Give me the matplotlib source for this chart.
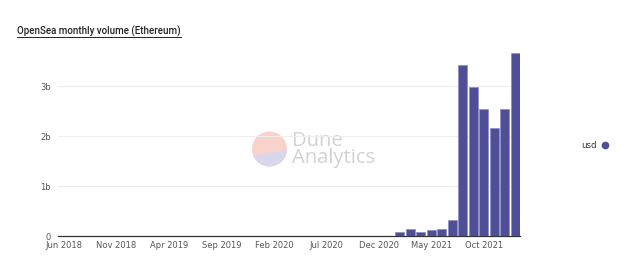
import matplotlib
matplotlib.use("Agg")
import matplotlib.pyplot as plt
from matplotlib.patches import Circle, Polygon
from matplotlib.lines import Line2D
import numpy as np

# ---- data ----
months = ["Jun 2018", "Jul 2018", "Aug 2018", "Sep 2018", "Oct 2018", "Nov 2018", "Dec 2018",
          "Jan 2019", "Feb 2019", "Mar 2019", "Apr 2019", "May 2019", "Jun 2019", "Jul 2019",
          "Aug 2019", "Sep 2019", "Oct 2019", "Nov 2019", "Dec 2019",
          "Jan 2020", "Feb 2020", "Mar 2020", "Apr 2020", "May 2020", "Jun 2020", "Jul 2020",
          "Aug 2020", "Sep 2020", "Oct 2020", "Nov 2020", "Dec 2020",
          "Jan 2021", "Feb 2021", "Mar 2021", "Apr 2021", "May 2021", "Jun 2021", "Jul 2021",
          "Aug 2021", "Sep 2021", "Oct 2021", "Nov 2021", "Dec 2021", "Jan 2022"]
usd_b = [0.001, 0.001, 0.001, 0.001, 0.001, 0.001, 0.001,
         0.001, 0.001, 0.001, 0.001, 0.001, 0.002, 0.002,
         0.002, 0.002, 0.002, 0.002, 0.002,
         0.002, 0.002, 0.002, 0.002, 0.002, 0.002, 0.003,
         0.004, 0.005, 0.004, 0.003, 0.004,
         0.008, 0.09, 0.14, 0.08, 0.13, 0.14, 0.32,
         3.42, 2.99, 2.55, 2.16, 2.55, 3.67]
tick_labels = ["Jun 2018", "Nov 2018", "Apr 2019", "Sep 2019", "Feb 2020",
               "Jul 2020", "Dec 2020", "May 2021", "Oct 2021"]
y_ticks = [0, 1, 2, 3]
y_tick_labels = ["0", "1b", "2b", "3b"]
title = "OpenSea monthly volume (Ethereum)"
series_name = "usd"

W, H = 633, 262
fig = plt.figure(figsize=(W / 100, H / 100), dpi=100)
fig.patch.set_facecolor("white")

ax = fig.add_axes([58 / W, (H - 236) / H, (520 - 58) / W, 191 / H])
x = np.arange(len(months))
ax.bar(x, usd_b, width=0.86, color="#4e4f97", edgecolor="#9090c6", linewidth=0.6, zorder=3)

ax.set_xlim(-0.57, 43.45)
ax.set_ylim(0, 3.82)
ax.set_xticks([months.index(t) for t in tick_labels])
ax.set_xticklabels(tick_labels)
ax.set_yticks(y_ticks)
ax.set_yticklabels(y_tick_labels)
ax.tick_params(axis="both", length=0, labelsize=6, labelcolor="#555555")
ax.tick_params(axis="x", pad=3.5)
ax.tick_params(axis="y", pad=5)
ax.yaxis.grid(True, color="#eeeeee", linewidth=0.8, zorder=0)
for s in ["top", "right", "left"]:
    ax.spines[s].set_visible(False)
ax.spines["bottom"].set_color("#333333")
ax.spines["bottom"].set_linewidth(0.9)
ax.set_facecolor("none")

# title (underlined)
t = fig.text(17 / W, (H - 31.5) / H, title, fontsize=7, color="#222222",
             family=["Roboto", "DejaVu Sans"], fontweight="medium", va="center", ha="left")
fig.canvas.draw()
bb = t.get_window_extent()
fig.add_artist(Line2D([bb.x0 / W, bb.x1 / W], [(H - 36.5) / H] * 2, color="#222222",
                      linewidth=0.7, transform=fig.transFigure))

# legend
fig.text(597 / W, (H - 145) / H, series_name, fontsize=6.2, color="#333333",
         ha="right", va="center")
fig.add_artist(Line2D([605 / W], [(H - 145) / H], marker="o", markersize=4.5,
                      color="#4e4f97", transform=fig.transFigure))

# watermark
wax = fig.add_axes([0, 0, 1, 1], zorder=-1)
wax.set_xlim(0, W)
wax.set_ylim(H, 0)
wax.set_aspect("equal")
wax.axis("off")
cx, cy, r = 269.5, 149, 17.5
circ = Circle((cx, cy), r, facecolor="#f7d3cc", edgecolor="none")
wax.add_patch(circ)
low = Polygon([(cx - 30, cy + 9), (cx + 30, cy - 1.5), (cx + 30, cy + 30), (cx - 30, cy + 30)],
              facecolor="#d8d8ea", edgecolor="none")
wax.add_patch(low)
low.set_clip_path(circ)
wax.text(292, 150, "Dune\nAnalytics", fontsize=14.5, color="#d2d2d2", va="center", ha="left",
         linespacing=0.8, family=["Open Sans", "DejaVu Sans"])

fig.savefig("out.png", dpi=100, facecolor="white")
